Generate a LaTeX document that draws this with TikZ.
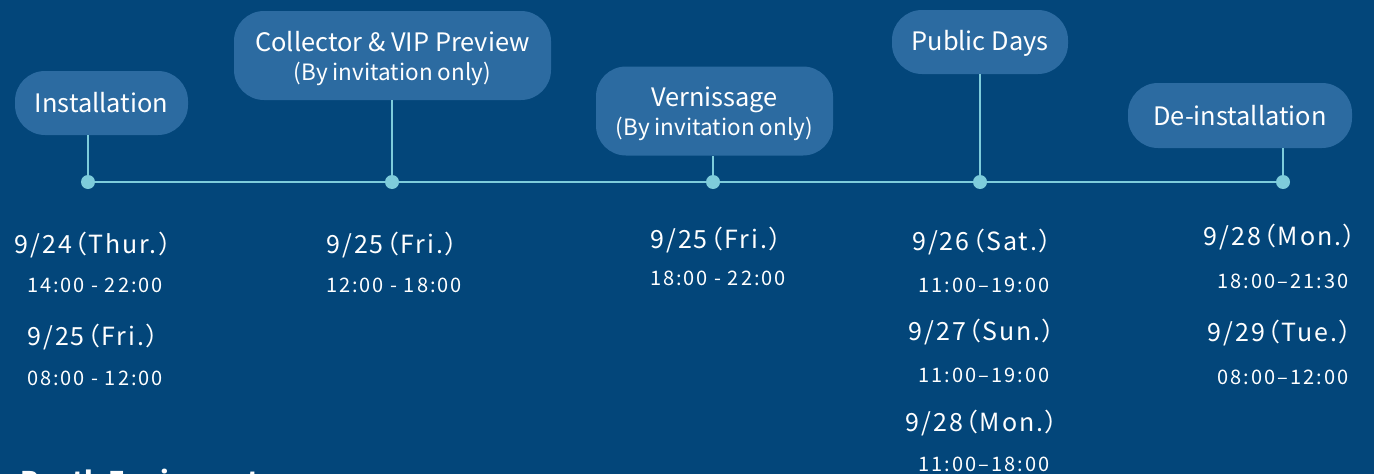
\documentclass[tikz,border=0pt]{standalone}
\usepackage{fontspec}
\setmainfont{Noto Sans CJK JP}
\newfontfamily\datefont[LetterSpace=8,RawFeature=+palt]{Noto Sans CJK JP}
\newfontfamily\hourfont[LetterSpace=10]{Noto Sans CJK JP}
\newcommand\subline{\fontsize{22.5}{26}\selectfont}
\definecolor{bgblue}{HTML}{03467A}
\definecolor{boxblue}{HTML}{2C6BA1}
\definecolor{linecyan}{HTML}{7ECCDB}
\begin{document}
\begin{tikzpicture}[x=1pt,y=-1pt,
    stage/.style={fill=boxblue, rounded corners=30pt, text=white, align=center, inner sep=0pt,
      font=\fontsize{25.4}{30}\selectfont},
    day/.style={text=white, font=\datefont\fontsize{25}{28}\selectfont},
    hours/.style={text=white, font=\hourfont\fontsize{20}{22}\selectfont},
    tl/.style={draw=linecyan, line width=2pt}]
  \fill[bgblue] (0,0) rectangle (1374,474);
  \useasboundingbox (0,0) rectangle (1374,474);

  % stages
  \node[stage, minimum width=173pt, minimum height=64pt] (install) at (101.5,103) {Installation};
  \node[stage, minimum width=317pt, minimum height=89pt] (preview) at (392.5,55.5)
    {\rule{0pt}{26pt}Collector \& VIP Preview\\[-1pt]{\subline(By invitation only)}};
  \node[stage, minimum width=237pt, minimum height=89pt] (vernis) at (714.5,111)
    {\rule{0pt}{26pt}Vernissage\\[-1pt]{\subline(By invitation only)}};
  \node[stage, minimum width=176pt, minimum height=64pt] (public) at (980,42) {\rule{0pt}{22pt}Public Days};
  \node[stage, minimum width=224pt, minimum height=65pt] (deinst) at (1240,115.5) {De-installation};

  % timeline
  \coordinate (t1) at (88,182);
  \coordinate (t2) at (392,182);
  \coordinate (t3) at (713,182);
  \coordinate (t4) at (980,182);
  \coordinate (t5) at (1283,182);
  \draw[tl] (t1) -- (t5);
  \draw[tl] (t1) -- (t1 |- install.south);
  \draw[tl] (t2) -- (t2 |- preview.south);
  \draw[tl] (t3) -- (t3 |- vernis.south);
  \draw[tl] (t4) -- (t4 |- public.south);
  \draw[tl] (t5) -- (t5 |- deinst.south);
  \foreach \t in {t1,t2,t3,t4,t5}
    \fill[linecyan] (\t) circle (7pt);

  % dates
  \node[day] (a1) at (93,245) {9/24（Thur.）};
  \node[hours] (a2) at (95,285) {14:00 - 22:00};
  \node[day] (a3) at (93,337) {9/25（Fri.）};
  \node[hours] (a4) at (95,378) {08:00 - 12:00};

  \node[day] (b1) at (392,245) {9/25（Fri.）};
  \node[hours] (b2) at (394,285) {12:00 - 18:00};

  \node[day] (c1) at (716,240) {9/25（Fri.）};
  \node[hours] (c2) at (718,278) {18:00 - 22:00};

  \node[day] (d1) at (982,242) {9/26（Sat.）};
  \node[hours] (d2) at (984,285) {11:00–19:00};
  \node[day] (d3) at (982,332) {9/27（Sun.）};
  \node[hours] (d4) at (984,375) {11:00–19:00};
  \node[day] (d5) at (982,423) {9/28（Mon.）};
  \node[hours] (d6) at (984,464) {11:00–18:00};

  \node[day] (e1) at (1280,237) {9/28（Mon.）};
  \node[hours] (e2) at (1283,281) {18:00–21:30};
  \node[day] (e3) at (1280,333) {9/29（Tue.）};
  \node[hours] (e4) at (1283,377) {08:00–12:00};

  \node[anchor=base west, text=white, font=\bfseries\fontsize{27}{30}\selectfont] (booth) at (17,491) {Booth Equipment};
\end{tikzpicture}
\end{document}
